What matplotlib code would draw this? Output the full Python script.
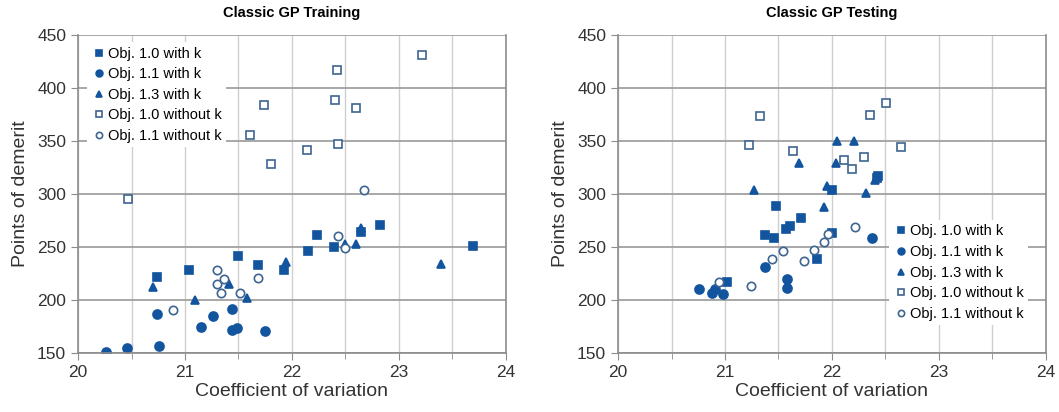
import matplotlib.pyplot as plt
from matplotlib.ticker import MultipleLocator

# Classic GP training results: (coefficient of variation, points of demerit)
train_sq_k_x = [20.74, 21.04, 21.50, 21.68, 21.93, 22.15, 22.23, 22.39, 22.65, 22.82, 23.69]
train_sq_k_y = [222, 228, 242, 233, 228, 246, 261, 250, 264, 271, 251]
train_ci_k_x = [20.26, 20.46, 20.76, 20.74, 21.15, 21.26, 21.44, 21.44, 21.49, 21.75]
train_ci_k_y = [151, 155, 157, 187, 175, 185, 192, 172, 174, 171]
train_tri_k_x = [20.70, 21.09, 21.41, 21.58, 21.94, 22.50, 22.60, 22.65, 23.39]
train_tri_k_y = [212, 200, 215, 202, 236, 253, 253, 268, 234]
train_sq_nok_x = [20.47, 21.61, 21.74, 21.80, 22.14, 22.40, 22.42, 22.43, 22.60, 23.22]
train_sq_nok_y = [295, 356, 384, 328, 342, 389, 417, 347, 381, 431]
train_ci_nok_x = [20.89, 21.30, 21.30, 21.36, 21.34, 21.51, 21.68, 22.43, 22.50, 22.67]
train_ci_nok_y = [191, 228, 215, 220, 207, 207, 221, 260, 249, 304]

# Classic GP testing results
test_sq_k_x = [21.48, 21.71, 21.61, 21.57, 21.37, 21.46, 22.00, 22.00, 21.86, 22.42, 22.43, 21.02]
test_sq_k_y = [289, 277, 270, 267, 261, 259, 304, 263, 239, 315, 317, 217]
test_ci_k_x = [20.76, 20.88, 20.91, 20.98, 21.37, 21.58, 21.58, 22.37]
test_ci_k_y = [210, 207, 210, 206, 231, 220, 211, 259]
test_tri_k_x = [21.27, 21.69, 21.93, 21.95, 22.04, 22.05, 22.21, 22.32, 22.40]
test_tri_k_y = [304, 329, 288, 308, 329, 350, 350, 301, 313]
test_sq_nok_x = [21.22, 21.33, 21.64, 22.11, 22.19, 22.30, 22.36, 22.51, 22.65]
test_sq_nok_y = [346, 374, 341, 332, 324, 335, 375, 386, 344]
test_ci_nok_x = [20.94, 21.24, 21.44, 21.54, 21.74, 21.83, 21.93, 21.96, 22.22]
test_ci_nok_y = [217, 213, 239, 246, 237, 247, 255, 262, 269]

labels = ["Obj. 1.0 with k", "Obj. 1.1 with k", "Obj. 1.3 with k",
          "Obj. 1.0 without k", "Obj. 1.1 without k"]

fill = "#12559e"
edge_open = "#3d6590"

plt.rcParams['font.family'] = ['Liberation Sans', 'DejaVu Sans']

fig = plt.figure(figsize=(10.59, 4.12), dpi=100)
ax1 = fig.add_axes([0.0737, 0.143, 0.404, 0.772])
ax2 = fig.add_axes([0.5836, 0.143, 0.404, 0.772])


def draw(ax, series, title, loc, anchor):
    styles = [("s", fill, fill, 6), ("o", fill, fill, 6.5), ("^", fill, fill, 6),
              ("s", "white", edge_open, 6), ("o", "white", edge_open, 6)]
    for (x, y), (m, fc, ec, ms), lab in zip(series, styles, labels):
        ax.plot(x, y, linestyle="none", marker=m, markersize=ms,
                markerfacecolor=fc, markeredgecolor=ec, markeredgewidth=1.2,
                label=lab)
    ax.set_xlim(20, 24)
    ax.set_ylim(150, 450)
    ax.xaxis.set_major_locator(MultipleLocator(1))
    ax.xaxis.set_minor_locator(MultipleLocator(0.5))
    ax.yaxis.set_major_locator(MultipleLocator(50))
    ax.grid(axis="y", color="#a0a0a0", linewidth=1.3)
    ax.grid(axis="x", which="both", color="#cfcfcf", linewidth=1.0)
    ax.set_axisbelow(True)
    for s in ax.spines.values():
        s.set_color("#8c8c8c")
        s.set_linewidth(1.2)
    ax.spines["top"].set_visible(False)
    ax.tick_params(axis="both", which="both", colors="#8c8c8c", labelcolor="#333333",
                   labelsize=12.5, length=5)
    ax.tick_params(axis="x", which="minor", length=4)
    ax.set_title(title, fontsize=10.5, fontweight="bold", pad=13)
    ax.set_xlabel("Coefficient of variation", fontsize=14, color="#333333", labelpad=2)
    ax.set_ylabel("Points of demerit", fontsize=14, color="#333333", labelpad=6)
    leg = ax.legend(loc=loc, bbox_to_anchor=anchor, fontsize=10.5, frameon=True,
                    handletextpad=0.1, handlelength=1.0, borderpad=0.3,
                    labelspacing=0.45, markerscale=0.75, fancybox=False)
    leg.get_frame().set_edgecolor("none")
    leg.get_frame().set_facecolor("white")
    leg.get_frame().set_alpha(1.0)


draw(ax1,
     [(train_sq_k_x, train_sq_k_y), (train_ci_k_x, train_ci_k_y),
      (train_tri_k_x, train_tri_k_y), (train_sq_nok_x, train_sq_nok_y),
      (train_ci_nok_x, train_ci_nok_y)],
     "Classic GP Training", "upper left", (0.005, 1.0))
draw(ax2,
     [(test_sq_k_x, test_sq_k_y), (test_ci_k_x, test_ci_k_y),
      (test_tri_k_x, test_tri_k_y), (test_sq_nok_x, test_sq_nok_y),
      (test_ci_nok_x, test_ci_nok_y)],
     "Classic GP Testing", "lower right", (0.975, 0.065))

fig.savefig("out.png", dpi=100)
